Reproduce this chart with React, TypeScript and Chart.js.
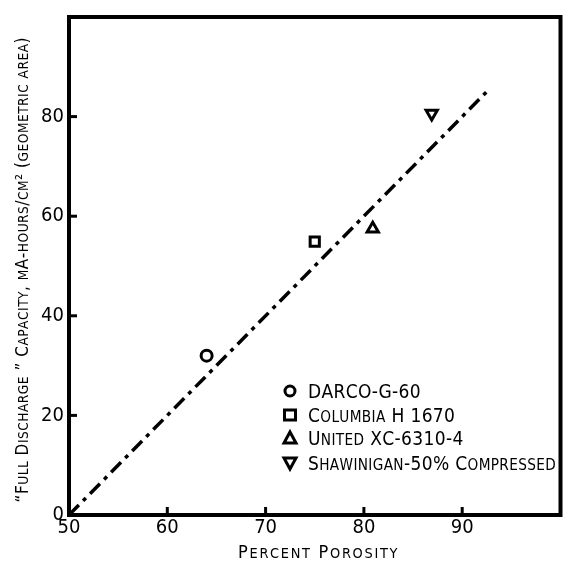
import React, { useEffect, useRef } from "react";
import { Chart, registerables } from "chart.js";

Chart.register(...registerables);

const seriesLabels = [
  "DARCO-G-60",
  "Columbia H 1670",
  "United XC-6310-4",
  "Shawinigan-50% Compressed",
];
const porosity = [64, 75, 80.9, 86.9];
const capacity = [32, 54.9, 57.5, 80.6];
const pointStyles = ["circle", "rect", "triangle", "triangle"];
const pointRotations = [0, 0, 0, 180];

const fitX = [50, 92.5];
const fitY = [0, 85];

const xTicks = [50, 60, 70, 80, 90];
const yTicks = [0, 20, 40, 60, 80];

const xTitle = "Percent Porosity";
const yTitle = "\u201CFull Discharge \u201D Capacity, mA-hours/cm\u00B2 (geometric area)";

const FONT = "'Liberation Sans Narrow', 'DejaVu Sans Condensed', sans-serif";

function drawSmallCaps(
  ctx: CanvasRenderingContext2D,
  text: string,
  x: number,
  y: number,
  size: number,
  ratio: number,
  spacing: number,
  align: "left" | "center"
) {
  const parts = Array.from(text).map((c) => {
    const lower = c !== c.toUpperCase();
    const s = lower ? size * ratio : size;
    ctx.font = s + "px " + FONT;
    const ch = lower ? c.toUpperCase() : c;
    return { ch, s, w: ctx.measureText(ch).width };
  });
  const total =
    parts.reduce((acc, p) => acc + p.w, 0) + spacing * (parts.length - 1);
  let cx = align === "center" ? x - total / 2 : x;
  ctx.textAlign = "left";
  ctx.textBaseline = "alphabetic";
  parts.forEach((p) => {
    ctx.font = p.s + "px " + FONT;
    ctx.fillText(p.ch, cx, y);
    cx += p.w + spacing;
  });
}

const framePlugin = {
  id: "frame",
  afterDatasetsDraw(chart: any) {
    const { ctx, chartArea: a, scales } = chart;
    ctx.save();
    ctx.strokeStyle = "#000";
    ctx.fillStyle = "#000";
    ctx.lineCap = "butt";
    // inward tick marks
    ctx.lineWidth = 3;
    xTicks.slice(1).forEach((v) => {
      const px = scales.x.getPixelForValue(v);
      ctx.beginPath();
      ctx.moveTo(px, a.bottom);
      ctx.lineTo(px, a.bottom - 8);
      ctx.stroke();
    });
    yTicks.slice(1).forEach((v) => {
      const py = scales.y.getPixelForValue(v);
      ctx.beginPath();
      ctx.moveTo(a.left, py);
      ctx.lineTo(a.left + 8, py);
      ctx.stroke();
    });
    // box
    ctx.lineWidth = 4;
    ctx.beginPath();
    ctx.moveTo(a.left, a.top);
    ctx.lineTo(a.right, a.top);
    ctx.lineTo(a.right, a.bottom);
    ctx.lineTo(a.left, a.bottom);
    ctx.closePath();
    ctx.stroke();

    // axis titles (small caps)
    drawSmallCaps(ctx, xTitle, (a.left + a.right) / 2 + 3, 558, 18, 0.8, 1.7, "center");
    ctx.save();
    ctx.translate(28, (a.top + a.bottom) / 2 + 4);
    ctx.rotate(-Math.PI / 2);
    drawSmallCaps(ctx, yTitle, 0, 0, 17, 0.8, 0.5, "center");
    ctx.restore();

    // legend inside plot
    const lx = 290;
    const tx = 308;
    const rows = [391, 415, 438, 463];
    seriesLabels.forEach((lab, i) => {
      const y = rows[i];
      ctx.lineWidth = 3;
      ctx.beginPath();
      if (i === 0) {
        ctx.arc(lx, y, 5, 0, Math.PI * 2);
      } else if (i === 1) {
        ctx.rect(lx - 5.5, y - 5, 11, 10);
      } else if (i === 2) {
        ctx.moveTo(lx, y - 6);
        ctx.lineTo(lx + 6, y + 5);
        ctx.lineTo(lx - 6, y + 5);
        ctx.closePath();
      } else {
        ctx.moveTo(lx, y + 6);
        ctx.lineTo(lx + 6, y - 5);
        ctx.lineTo(lx - 6, y - 5);
        ctx.closePath();
      }
      ctx.stroke();
      drawSmallCaps(ctx, lab, tx, y + 7, 19, 0.8, 0.35, "left");
    });
    ctx.restore();
  },
};

export default function App() {
  const ref = useRef<HTMLCanvasElement>(null);
  useEffect(() => {
    if (!ref.current) return;
    const chart = new Chart(ref.current, {
      type: "scatter",
      data: {
        datasets: [
          {
            type: "line",
            label: "fit",
            data: fitX.map((x, i) => ({ x, y: fitY[i] })),
            borderColor: "#000",
            borderWidth: 3.5,
            borderDash: [14, 6, 4, 6],
            pointRadius: 0,
            fill: false,
          } as any,
          ...seriesLabels.map((lab, i) => ({
            label: lab,
            data: [{ x: porosity[i], y: capacity[i] }],
            pointStyle: pointStyles[i],
            rotation: pointRotations[i],
            pointRadius: i === 0 ? 5.5 : 6.5,
            borderColor: "#000",
            backgroundColor: "#fff",
            borderWidth: 3,
          })),
        ],
      },
      plugins: [framePlugin],
      options: {
        animation: false,
        responsive: false,
        layout: { padding: { top: 11, right: 6, left: 0, bottom: 0 } },
        plugins: { legend: { display: false }, tooltip: { enabled: false } },
        scales: {
          x: {
            type: "linear",
            min: 50,
            max: 100,
            afterBuildTicks: (s: any) => {
              s.ticks = xTicks.map((v) => ({ value: v }));
            },
            afterFit: (s: any) => {
              s.height = 55;
            },
            grid: { display: false, drawTicks: false },
            border: { display: false },
            ticks: {
              color: "#000",
              padding: 1,
              font: { family: FONT, size: 20 },
            },
            title: { display: false },
          },
          y: {
            type: "linear",
            min: 0,
            max: 100,
            afterBuildTicks: (s: any) => {
              s.ticks = yTicks.map((v) => ({ value: v }));
            },
            afterFit: (s: any) => {
              s.width = 69;
            },
            grid: { display: false, drawTicks: false },
            border: { display: false },
            ticks: {
              color: "#000",
              padding: 5,
              font: { family: FONT, size: 20 },
            },
            title: { display: false },
          },
        },
      },
    });
    return () => chart.destroy();
  }, []);
  return (
    <div style={{ position: "fixed", left: 0, top: 0, width: 570, height: 570, background: "#fff" }}>
      <canvas ref={ref} width={570} height={570} style={{ width: 570, height: 570 }} />
    </div>
  );
}
